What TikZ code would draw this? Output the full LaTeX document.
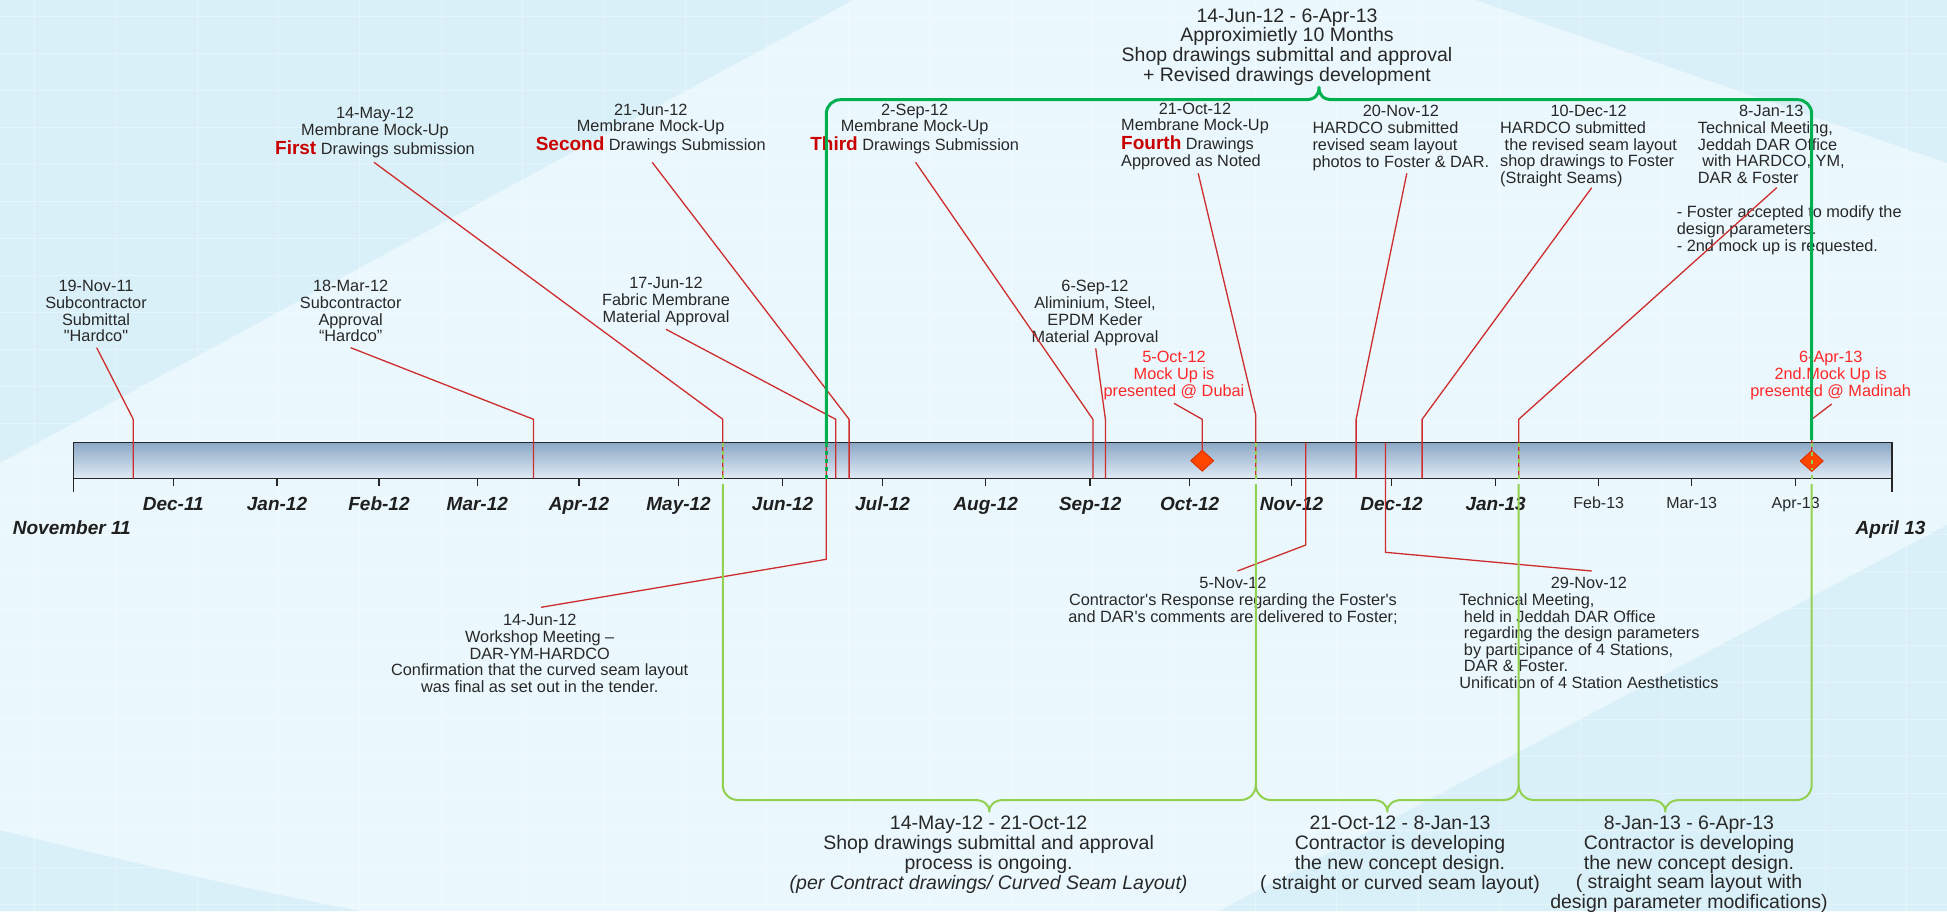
\documentclass[tikz,border=0pt]{standalone}
\usepackage{fontspec}
\setmainfont{Liberation Sans}[Ligatures=TeXOff]
\usetikzlibrary{shapes.geometric}

\definecolor{bgbase}{RGB}{234,247,252}
\definecolor{bgdark}{RGB}{218,240,248}
\definecolor{leader}{RGB}{205,45,45}
\definecolor{darkgreen}{RGB}{0,176,80}
\definecolor{lightgreen}{RGB}{146,208,80}
\definecolor{txt}{RGB}{40,40,40}
\definecolor{hot}{RGB}{255,40,40}
\definecolor{deepred}{RGB}{200,0,0}
\definecolor{bartop}{RGB}{140,168,198}
\definecolor{barbot}{RGB}{224,235,245}
\definecolor{markfill}{RGB}{255,70,0}
\definecolor{markedge}{RGB}{220,50,0}

\newcommand\evfont{\fontsize{16.3}{16.4}\selectfont}
\newcommand\bigfont{\fontsize{19.5}{19.1}\selectfont}
\newcommand\keyword[1]{{\fontsize{19}{19}\selectfont\bfseries\color{deepred}#1}}
\newcommand\blockC[1]{\begin{tabular}[t]{@{}c@{}}#1\end{tabular}}
\newcommand\blockL[2]{\begin{tabular}[t]{@{}l@{}}\multicolumn{1}{@{}c@{}}{#1}\\#2\end{tabular}}

\begin{document}
\begin{tikzpicture}[x=1pt,y=-1pt,
  evt/.style={font=\evfont, text=txt, inner sep=0pt, anchor=base},
  evtl/.style={evt, anchor=base west},
  hotevt/.style={evt, text=hot},
  big/.style={font=\bigfont, text=txt, inner sep=0pt, anchor=base},
  month/.style={font=\fontsize{19}{19}\selectfont\bfseries\itshape, text=black!88, inner sep=0pt, anchor=base},
  monthplain/.style={font=\fontsize{16}{16}\selectfont, text=txt, inner sep=0pt, anchor=base},
  leaderline/.style={draw=leader, line width=1.3pt, line join=round},
  spanmain/.style={draw=darkgreen, line width=3pt},
  spanpart/.style={draw=lightgreen, line width=2pt},
  inbar/.style={dash pattern=on 4pt off 4pt},
  marker/.style={diamond, fill=markfill, draw=markedge, line width=0.8pt, minimum width=23pt, minimum height=21pt, inner sep=0pt},
  gridline/.style={draw=white, line width=0.9pt, opacity=0.32},
  tick/.style={draw=black!85, line width=1.5pt}]

% page and backdrop
\useasboundingbox (0,0) rectangle (1947,911);
\fill[bgbase] (0,0) rectangle (1947,911);
\fill[bgdark] (0,0) -- (853,0) -- (0,463) -- cycle;
\fill[bgdark] (1476,0) -- (1947,0) -- (1947,163) -- cycle;
\fill[bgdark] (1219,911) -- (1947,525) -- (1947,911) -- cycle;
\fill[bgdark] (0,830) .. controls (120,860) and (250,890) .. (360,911) -- (0,911) -- cycle;
\foreach \gx in {0,...,23} \draw[gridline] ({34.3+81.4*\gx},0) -- ({34.3+81.4*\gx},911);
\foreach \gy in {0,...,24} \draw[gridline] (0,{16.7+37*\gy}) -- (1947,{16.7+37*\gy});

% time bar
\shade[top color=bartop, bottom color=barbot] (73.3,442.7) rectangle (1891.9,478.6);
\draw[black!85, line width=1.5pt] (73.3,442.7) rectangle (1891.9,478.6);
\draw[tick] (73.3,478.6) -- (73.3,492);
\draw[tick] (1891.9,478.6) -- (1891.9,492);
\foreach \tx in {173.3,277,379,477.3,579,678.6,782.6,882.6,985.7,1090.2,1189.7,1291.5,1391.6,1495.7,1598.7,1691.7,1795.7}
  \draw[tick] (\tx,478.6) -- (\tx,485.5);

% month labels
\node[month] (m1) at (173.3,510.5) {Dec-11};
\node[month] (m2) at (277,510.5) {Jan-12};
\node[month] (m3) at (379,510.5) {Feb-12};
\node[month] (m4) at (477.3,510.5) {Mar-12};
\node[month] (m5) at (579,510.5) {Apr-12};
\node[month] (m6) at (678.6,510.5) {May-12};
\node[month] (m7) at (782.6,510.5) {Jun-12};
\node[month] (m8) at (882.6,510.5) {Jul-12};
\node[month] (m9) at (985.7,510.5) {Aug-12};
\node[month] (m10) at (1090.2,510.5) {Sep-12};
\node[month] (m11) at (1189.7,510.5) {Oct-12};
\node[month] (m12) at (1291.5,510.5) {Nov-12};
\node[month] (m13) at (1391.6,510.5) {Dec-12};
\node[month] (m14) at (1495.7,510.5) {Jan-13};
\node[monthplain] (m15) at (1598.7,508.8) {Feb-13};
\node[monthplain] (m16) at (1691.7,508.8) {Mar-13};
\node[monthplain] (m17) at (1795.7,508.8) {Apr-13};
\node[month, anchor=base west] (start) at (12.7,534.1) {November 11};
\node[month, anchor=base west] (finish) at (1855.5,534.8) {April 13};

% period captions
\node[big] (span) at (1287,22) {\blockC{14-Jun-12 - 6-Apr-13\\Approximietly 10 Months\\Shop drawings submittal and approval\\+ Revised drawings development}};
\node[big] (b1) at (988.6,829.5) {\blockC{14-May-12 - 21-Oct-12\\Shop drawings submittal and approval\\process is ongoing.\\\textit{(per Contract drawings/ Curved Seam Layout)}}};
\node[big] (b2) at (1400,829.5) {\blockC{21-Oct-12 - 8-Jan-13\\Contractor is developing\\the new concept design.\\( straight or curved seam layout)}};
\node[big, font=\fontsize{19.5}{18.8}\selectfont] (b3) at (1689,829.5) {\blockC{8-Jan-13 - 6-Apr-13\\Contractor is developing\\the new concept design.\\( straight seam layout with\\design parameter modifications)}};

% events above the bar
\node[evt] (e1) at (96,291.6) {\blockC{19-Nov-11\\Subcontractor\\Submittal\\"Hardco"}};
\node[evt] (e2) at (350.7,291.6) {\blockC{18-Mar-12\\Subcontractor\\Approval\\“Hardco”}};
\node[evt] (e3) at (375,118.6) {\blockC{14-May-12\\Membrane Mock-Up\\\keyword{First} Drawings submission}};
\node[evt] (e4) at (666,288.6) {\blockC{17-Jun-12\\Fabric Membrane\\Material Approval}};
\node[evt] (e5) at (650.7,115.2) {\blockC{21-Jun-12\\Membrane Mock-Up\\\keyword{Second} Drawings Submission}};
\node[evt] (e6) at (914.7,115.2) {\blockC{2-Sep-12\\Membrane Mock-Up\\\keyword{Third} Drawings Submission}};
\node[evt] (e7) at (1095,291.9) {\blockC{6-Sep-12\\Aliminium, Steel,\\EPDM Keder\\Material Approval}};
\node[hotevt] (e8) at (1174,362.6) {\blockC{5-Oct-12\\Mock Up is\\presented @ Dubai}};
\node[evtl] (e9) at (1121,114.2) {\blockL{21-Oct-12}{Membrane Mock-Up\\\keyword{Fourth} Drawings\\Approved as Noted}};
\node[evtl] (e11) at (1312.3,116.9) {\blockL{20-Nov-12}{HARDCO submitted\\revised seam layout\\photos to Foster \& DAR.}};
\node[evtl] (e12) at (1500,116.6) {\blockL{10-Dec-12}{HARDCO submitted\\\ the revised seam layout\\shop drawings to Foster\\(Straight Seams)}};
\node[evtl] (e13) at (1697.7,116.6) {\blockL{8-Jan-13}{Technical Meeting,\\Jeddah DAR Office\\\ with HARDCO, YM,\\DAR \& Foster}};
\node[evtl] (e13n) at (1676.7,217.6) {\begin{tabular}[t]{@{}l@{}}- Foster accepted to modify the\\design parameters.\\- 2nd mock up is requested.\end{tabular}};
\node[hotevt] (e16) at (1830.7,362.6) {\blockC{6-Apr-13\\2nd.Mock Up is\\presented @ Madinah}};

% events below the bar
\node[evt] (e10) at (1233,588.6) {\blockC{5-Nov-12\\Contractor's Response regarding the Foster's\\and DAR's comments are delivered to Foster;}};
\node[evtl] (e14) at (1459.2,588.6) {\blockL{29-Nov-12}{Technical Meeting,\\\ held in Jeddah DAR Office\\\ regarding the design parameters\\\ by participance of 4 Stations,\\\ DAR \& Foster.\\Unification of 4 Station Aesthetistics}};
\node[evt] (e15) at (539.7,625.9) {\blockC{14-Jun-12\\Workshop Meeting –\\DAR-YM-HARDCO\\Confirmation that the curved seam layout\\was final as set out in the tender.}};

% leader line end points
\coordinate (l1a) at (96.7,347.7);   \coordinate (l1b) at (133.3,419.3);  \coordinate (l1c) at (133.3,478.5);
\coordinate (l2a) at (350.7,347.7);  \coordinate (l2b) at (533.5,419.3);  \coordinate (l2c) at (533.5,478.5);
\coordinate (l3a) at (374,162.3);    \coordinate (l3b) at (722.8,419.3);  \coordinate (l3c) at (722.8,478.5);
\coordinate (l4a) at (666,329.3);    \coordinate (l4b) at (835.7,419.3);  \coordinate (l4c) at (835.7,478.5);
\coordinate (l5a) at (652.2,162.3);  \coordinate (l5b) at (849.1,419.3);  \coordinate (l5c) at (849.1,478.5);
\coordinate (l6a) at (915.6,162.3);  \coordinate (l6b) at (1092.9,419.3); \coordinate (l6c) at (1092.9,478.5);
\coordinate (l7a) at (1095.7,348.3); \coordinate (l7b) at (1105.4,419.3); \coordinate (l7c) at (1105.4,478.5);
\coordinate (l8a) at (1174,403.3);   \coordinate (l8b) at (1202.2,419.3);
\coordinate (l9a) at (1198.2,173.3); \coordinate (l9b) at (1255.8,415);   \coordinate (l9c) at (1255.8,478.5);
\coordinate (l10a) at (1305.8,442.7); \coordinate (l10b) at (1305.8,545);  \coordinate (l10c) at (1237.5,571);
\coordinate (l11a) at (1406.8,173.3); \coordinate (l11b) at (1356.1,419.3); \coordinate (l11c) at (1356.1,478.5);
\coordinate (l12a) at (1591.7,187.7); \coordinate (l12b) at (1422.1,419.3); \coordinate (l12c) at (1422.1,478.5);
\coordinate (l13a) at (1776.7,187.7); \coordinate (l13b) at (1518.7,419.3); \coordinate (l13c) at (1518.7,478.5);
\coordinate (l14a) at (1385.4,442.7); \coordinate (l14b) at (1385.4,552.3); \coordinate (l14c) at (1591.7,571);
\coordinate (l15a) at (826.3,442.7);  \coordinate (l15b) at (826.3,559.3);  \coordinate (l15c) at (541,607.3);
\coordinate (l16a) at (1831.7,404);   \coordinate (l16b) at (1811.7,419.3);

% diamonds on the bar
\node[marker] (d1) at (1202.2,460.7) {};
\node[marker] (d2) at (1811.7,461) {};

% leader lines
\draw[leaderline] (l1a) -- (l1b) -- (l1c);
\draw[leaderline] (l2a) -- (l2b) -- (l2c);
\draw[leaderline] (l3a) -- (l3b) -- (l3c);
\draw[leaderline] (l4a) -- (l4b) -- (l4c);
\draw[leaderline] (l5a) -- (l5b) -- (l5c);
\draw[leaderline] (l6a) -- (l6b) -- (l6c);
\draw[leaderline] (l7a) -- (l7b) -- (l7c);
\draw[leaderline] (l8a) -- (l8b) -- (d1.north);
\draw[leaderline] (l9a) -- (l9b) -- (l9c);
\draw[leaderline] (l10a) -- (l10b) -- (l10c);
\draw[leaderline] (l11a) -- (l11b) -- (l11c);
\draw[leaderline] (l12a) -- (l12b) -- (l12c);
\draw[leaderline] (l13a) -- (l13b) -- (l13c);
\draw[leaderline] (l14a) -- (l14b) -- (l14c);
\draw[leaderline] (l15a) -- (l15b) -- (l15c);
\draw[leaderline] (l16a) -- (l16b) -- (d2.north);

% overall span bracket (above)
\draw[spanmain, line join=round] (826.3,442.7) -- (826.3,113.7)
  .. controls (826.3,106) and (832.6,99.7) .. (840.3,99.7) -- (1305,99.7)
  .. controls (1314,99.7) and (1319,96) .. (1319,87.3)
  .. controls (1319,96) and (1324,99.7) .. (1333,99.7) -- (1797.7,99.7)
  .. controls (1805.4,99.7) and (1811.7,106) .. (1811.7,113.7) -- (1811.7,440);
\draw[spanmain, inbar, line width=2.5pt] (826.3,443) -- (826.3,478.5);

% phase brackets (below)
\draw[spanpart, line join=round] (722.8,484) -- (722.8,785)
  .. controls (722.8,793.3) and (729.5,800) .. (737.8,800) -- (974.3,800)
  .. controls (983.3,800) and (989.3,804) .. (989.3,811.7)
  .. controls (989.3,804) and (995.3,800) .. (1004.3,800) -- (1240.8,800)
  .. controls (1249.1,800) and (1255.8,793.3) .. (1255.8,785) -- (1255.8,484);
\draw[spanpart, line join=round] (1255.8,785)
  .. controls (1255.8,793.3) and (1262.5,800) .. (1270.8,800) -- (1372.3,800)
  .. controls (1381.3,800) and (1387.3,804) .. (1387.3,811.7)
  .. controls (1387.3,804) and (1393.3,800) .. (1402.3,800) -- (1503.7,800)
  .. controls (1512,800) and (1518.7,793.3) .. (1518.7,785) -- (1518.7,484);
\draw[spanpart, line join=round] (1518.7,785)
  .. controls (1518.7,793.3) and (1525.4,800) .. (1533.7,800) -- (1650.3,800)
  .. controls (1659.3,800) and (1665.3,804) .. (1665.3,811.7)
  .. controls (1665.3,804) and (1671.3,800) .. (1680.3,800) -- (1796.7,800)
  .. controls (1805,800) and (1811.7,793.3) .. (1811.7,785) -- (1811.7,484);
\foreach \bx in {722.8,1255.8,1518.7,1811.7}
  \draw[spanpart, inbar, line width=1.8pt] (\bx,443) -- (\bx,478.5);

% diamonds drawn again on top of the lines
\node[marker] (d1top) at (d1) {};
\node[marker] (d2top) at (d2) {};
\draw[spanpart, inbar, line width=1.8pt] (1811.7,452) -- (1811.7,470);

\end{tikzpicture}
\end{document}
